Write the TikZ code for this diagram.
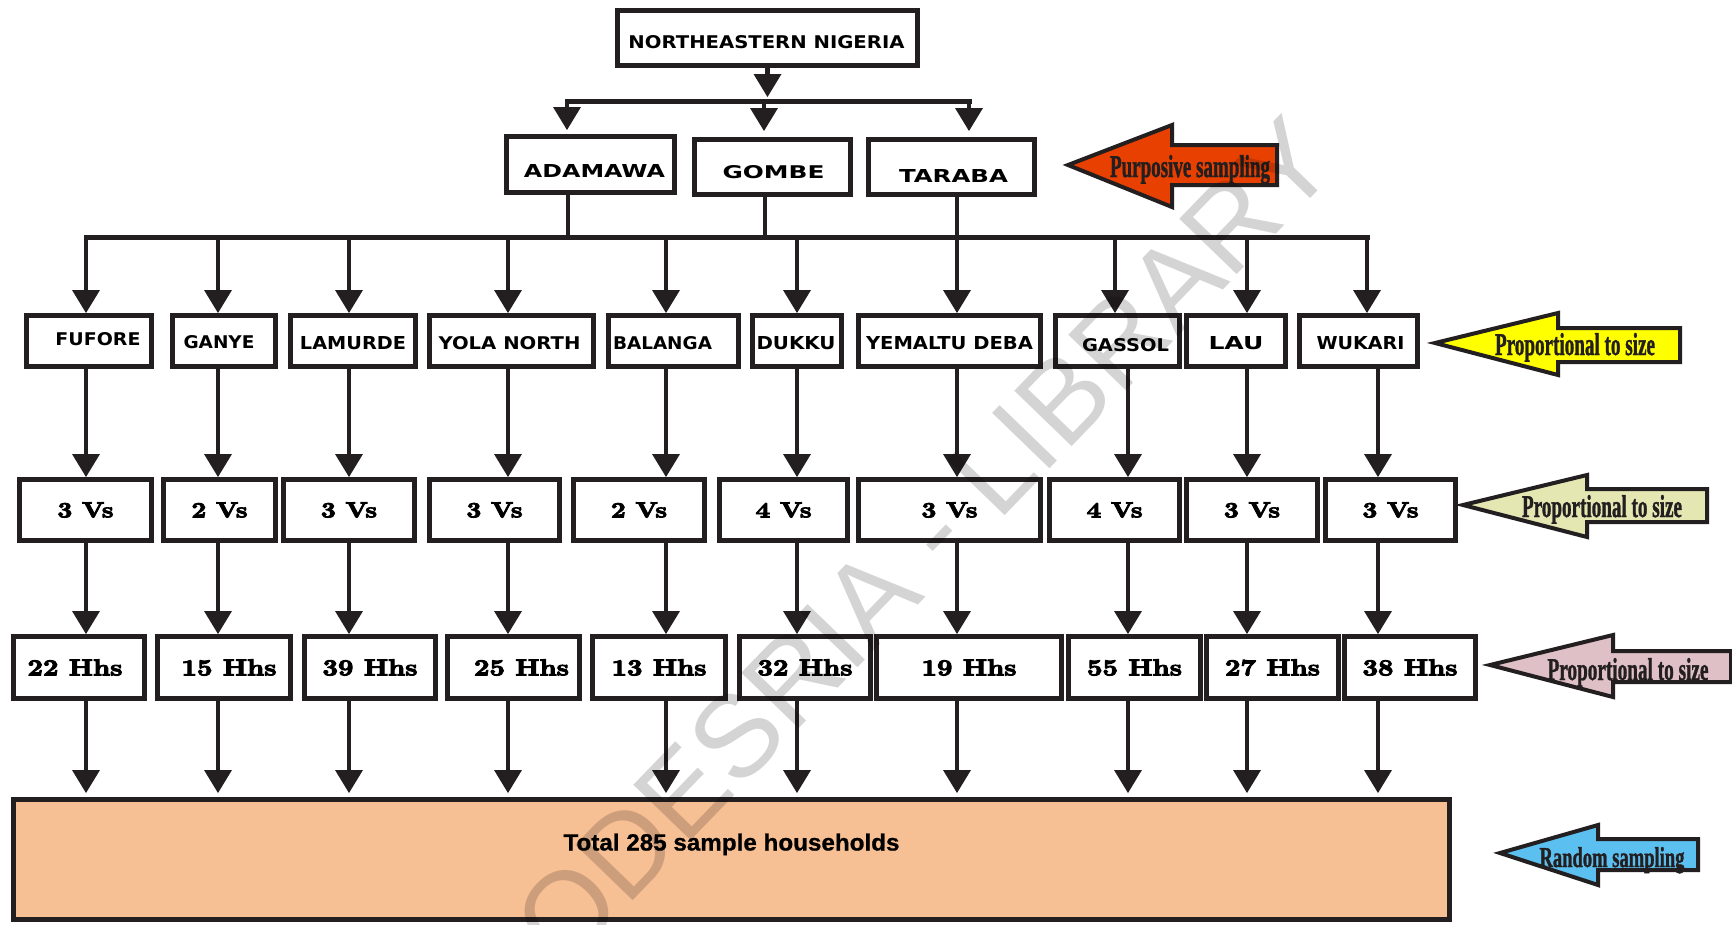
\documentclass[tikz,border=0pt]{standalone}
\usepackage{fontspec}
\usepackage{graphicx}
\usetikzlibrary{arrows.meta}
\newfontfamily\capfont{DejaVu Sans}
\newfontfamily\calfont{Liberation Serif Bold}[FakeBold=1.5]
\newfontfamily\totfont{Liberation Sans}
\newfontfamily\totbold{Liberation Sans Bold}[FakeBold=0.8]
\newfontfamily\fatfont{lmroman10-bold}[Extension=.otf,FakeBold=4]
\definecolor{ink}{HTML}{231F20}
\definecolor{orangered}{HTML}{E84000}
\definecolor{yel}{HTML}{FFFF00}
\definecolor{pale}{HTML}{E5E7B2}
\definecolor{pinkish}{HTML}{DEC0C6}
\definecolor{skyb}{HTML}{5BBFF0}
\definecolor{peach}{HTML}{F7BF94}
\newdimen\pxu \pxu=0.02cm
% label helpers
\newcommand\capl[2]{\resizebox{#1\pxu}{13\pxu}{\capfont\bfseries #2}}
\newcommand\numl[3]{\resizebox{#1\pxu}{#2\pxu}{\fatfont #3}}
\newcommand\calbox[3]{\resizebox{#1\pxu}{#2\pxu}{\calfont #3}}
\newcommand\sh[3]{\hspace*{#1\pxu}\hspace*{#1\pxu}\raisebox{-#2\pxu}[\height][\depth]{#3}}
\newcommand\mkbox[7][]{%
  \pgfmathsetmacro\bxw{(#5-#3-5)*0.02}%
  \pgfmathsetmacro\bxh{(#6-#4-5)*0.02}%
  \pgfmathsetmacro\bxx{(#3+#5)/2}%
  \pgfmathsetmacro\bxy{(#4+#6)/2}%
  \node[box,#1,minimum width=\bxw cm,minimum height=\bxh cm] (#2) at (\bxx,\bxy) {#7};%
}
\newcommand\callout[9]{%
  \draw[callout,fill=#1] (#2,#3) -- (#4,#5) -- (#4,#7) -- (#9,#7) -- (#9,#8) -- (#4,#8) -- (#4,#6) -- cycle;%
}
\tikzset{
  box/.style={draw=ink,line width=0.1cm,fill=white,inner sep=0pt},
  conn/.style={draw=ink,line width=0.09cm},
  arr/.style={conn,-{Triangle[length=0.46cm,width=0.56cm,line width=0pt]}},
  thinarr/.style={arr,line width=0.07cm},
  bar/.style={conn,line width=0.1cm,line cap=rect},
  callout/.style={draw=ink,line width=0.08cm,line join=miter},
  caltext/.style={anchor=base,inner sep=0pt,text=ink},
}
\begin{document}
\begin{tikzpicture}[x=0.02cm,y=-0.02cm]
\useasboundingbox[fill=white] (0,0) rectangle (1732,924);

% ---- level 1 and 2
\mkbox{ne}{615}{8}{920}{68}{\sh{-1}{4}{\capl{276}{NORTHEASTERN NIGERIA}}}
\mkbox{adamawa}{504}{134}{677}{195}{\sh{4}{6}{\capl{141}{ADAMAWA}}}
\mkbox{gombe}{692}{137}{853}{197}{\sh{1}{5}{\capl{102}{GOMBE}}}
\mkbox{taraba}{866}{137}{1037}{197}{\sh{2}{9}{\capl{109}{TARABA}}}

\coordinate (tb1) at (567,101);
\coordinate (tb2) at (764,101);
\coordinate (tb3) at (969,101);
\coordinate (tbm) at (766,97);
\draw[arr] (ne.south) -- (ne.south |- tbm);
\draw[bar] (tb1) -- (tb3);
\draw[thinarr,shorten >=0.08cm] (tb1) -- (tb1 |- adamawa.north);
\draw[thinarr,shorten >=0.12cm] (tb2) -- (tb2 |- gombe.north);
\draw[thinarr,shorten >=0.12cm] (tb3) -- (tb3 |- taraba.north);

\coordinate (m1) at (568,237);
\coordinate (m2) at (765,237);
\coordinate (m3) at (957,237);
\draw[conn] (adamawa.south -| m1) -- (m1);
\draw[conn] (gombe.south -| m2) -- (m2);
\draw[conn] (taraba.south -| m3) -- (m3);

% ---- level 3
\mkbox{fufore}{24}{313}{154}{369}{\sh{9}{-2}{\capl{85}{FUFORE}}}
\mkbox{ganye}{170}{313}{278}{369}{\sh{-5}{1}{\capl{71}{GANYE}}}
\mkbox{lamurde}{288}{313}{418}{369}{\sh{0}{2}{\capl{106}{LAMURDE}}}
\mkbox{yola}{427}{313}{596}{369}{\sh{-2}{2}{\capl{142}{YOLA NORTH}}}
\mkbox{balanga}{606}{313}{741}{369}{\sh{-11}{2}{\capl{99}{BALANGA}}}
\mkbox{dukku}{750}{313}{844}{369}{\sh{-1}{2}{\capl{79}{DUKKU}}}
\mkbox{yemaltu}{856}{313}{1043}{369}{\sh{0}{2}{\capl{167}{YEMALTU DEBA}}}
\mkbox{gassol}{1053}{313}{1182}{369}{\sh{8}{4}{\capl{87}{GASSOL}}}
\mkbox{lau}{1184}{313}{1288}{369}{\sh{0}{2}{\capl{55}{LAU}}}
\mkbox{wukari}{1297}{313}{1420}{369}{\sh{2}{2}{\capl{88}{WUKARI}}}

% ---- level 4 (villages)
\foreach \i/\xl/\xr/\nn in {1/17/154/3,2/161/278/2,3/281/417/3,4/427/562/3,5/571/707/2,6/717/850/4,7/856/1043/3,8/1047/1182/4,9/1184/1320/3,10/1323/1458/3}
  {\mkbox{v\i}{\xl}{477}{\xr}{543}{\numl{56}{15}{\nn\ Vs}}}

% ---- level 5 (households)
\foreach \i/\xl/\xr/\nn/\dx in {1/11/147/22/-4,2/155/293/15/5,3/302/438/39/0,4/445/582/25/8,5/590/728/13/0,6/737/873/32/0,7/874/1064/19/0,8/1066/1203/55/0,9/1204/1341/27/0,10/1342/1478/38/0}
  {\mkbox{h\i}{\xl}{634}{\xr}{701}{\sh{\dx}{0}{\numl{95}{16}{\nn\ Hhs}}}}

% ---- total
\mkbox[fill=peach]{big}{11}{797}{1452}{922}{\raisebox{17.5\pxu}[17\pxu][0pt]{\resizebox{336\pxu}{17\pxu}{\totbold Total 285 sample households}}}

% ---- connectors, district bar
\foreach \i/\x in {1/86,2/218,3/349,4/508,5/666,6/797,7/957,8/1115,9/1247,10/1367}
  \coordinate (a\i) at (\x,237);
\foreach \i/\x in {1/86,2/218,3/349,4/508,5/666,6/797,7/957,8/1128,9/1247,10/1378}
  \coordinate (b\i) at (\x,0);
\draw[bar] (a1) -- (a10);
\foreach \i/\n in {1/fufore,2/ganye,3/lamurde,4/yola,5/balanga,6/dukku,7/yemaltu,8/gassol,9/lau,10/wukari}{
  \draw[thinarr] (a\i) -- (a\i |- \n.north);
  \draw[arr] (\n.south -| b\i) -- (v\i.north -| b\i);
  \draw[arr] (v\i.south -| b\i) -- (h\i.north -| b\i);
  \draw[arr,shorten >=0.08cm] (h\i.south -| b\i) -- (big.north -| b\i);
}

% ---- side callouts
\callout{orangered}{1068}{165}{1172}{125}{207}{145}{185}{1277}
\node[caltext] (c1) at (1190,177) {\calbox{160}{22}{Purposive sampling}};
\callout{yel}{1435}{343}{1558}{313}{375}{328}{362}{1680}
\node[caltext] (c2) at (1575,355) {\calbox{160}{22}{Proportional to size}};
\callout{pale}{1463}{505}{1587}{475}{537}{489}{522}{1707}
\node[caltext] (c3) at (1602,517) {\calbox{160}{22}{Proportional to size}};
\callout{pinkish}{1490}{665}{1613}{635}{697}{651}{682}{1731}
\node[caltext] (c4) at (1628,680) {\calbox{161}{22}{Proportional to size}};
\callout{skyb}{1500}{853}{1598}{825}{885}{839}{870}{1698}
\node[caltext] (c5) at (1612,867) {\calbox{145}{20}{Random sampling}};

% ---- watermark
\node[rotate=46,text=black,opacity=0.17,inner sep=0pt,font=\totfont\fontsize{66}{70}\selectfont] (wm) at (895,572) {CODESRIA - LIBRARY};
\end{tikzpicture}
\end{document}
